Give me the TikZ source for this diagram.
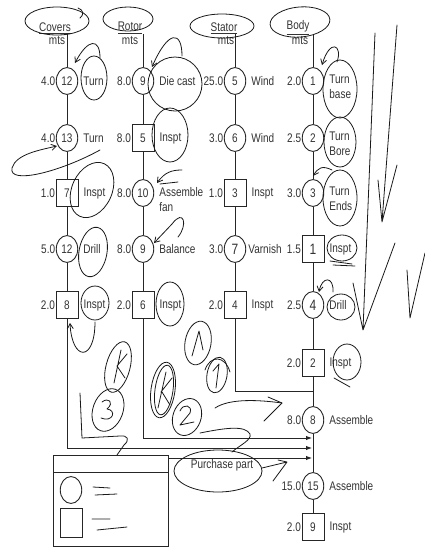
\documentclass[tikz,border=0pt]{standalone}
\usepackage{fontspec}
\setmainfont{Liberation Sans}
\usetikzlibrary{arrows.meta}
\tikzset{
  every node/.style={yscale=1.25,font=\fontsize{10}{12}\selectfont,text=black!80},
  op/.style={circle,draw=black!85,line width=.9pt,minimum size=21.5pt,inner sep=0pt},
  insp/.style={rectangle,draw=black!85,line width=.9pt,minimum size=22pt,inner sep=0pt},
  tm/.style={inner sep=.5pt,label distance=0pt},
  nm/.style={inner sep=1pt,label distance=4pt,align=left},
  nm2/.style={nm,anchor=north west,yshift=6pt},
  big/.style={font=\fontsize{12}{12}\selectfont},
  flow/.style={line width=.9pt,black!85},
  feed/.style={flow,-{Latex[length=6pt,width=4.5pt]}},
  pen/.style={line width=.8pt,black!90,line cap=round,line join=round},
  penarr/.style={pen,-{Straight Barb[length=5pt,width=6pt]}}
}
\begin{document}
\begin{tikzpicture}[x=1pt,y=-1pt]
 \useasboundingbox (0,0) rectangle (424,547);
 \node (hc) at (55,28) {\underline{Covers}};
 \node (hcm) at (57,41) {mts};
 \node (hr) at (130,28) {\underline{Rotor}};
 \node (hrm) at (130,41) {mts};
 \node (hs) at (224,28) {\underline{Stator}};
 \node (hsm) at (226,41) {mts};
 \node (hb) at (298,28) {\underline{Body}};
 \node (hbm) at (300,41) {mts};
 \coordinate (tc) at (67,34);
 \coordinate (tr) at (143,34);
 \coordinate (ts) at (235,34);
 \coordinate (tb) at (313,34);

 \node[op,label={[tm]west:4.0},label={[nm]east:Turn}] (c1) at (67,81) {12};
 \node[op,label={[tm]west:4.0},label={[nm]east:Turn}] (c2) at (67,138) {13};
 \node[insp,label={[tm]west:1.0},label={[nm]east:Inspt}] (c3) at (67,193) {7};
 \node[op,label={[tm]west:5.0},label={[nm]east:Drill}] (c4) at (67,249) {12};
 \node[insp,label={[tm]west:2.0},label={[nm]east:Inspt}] (c5) at (67,305) {8};

 \node[op,label={[tm]west:8.0},label={[nm]east:Die cast}] (r1) at (143,81) {9};
 \node[insp,label={[tm]west:8.0},label={[nm]east:Inspt}] (r2) at (143,138) {5};
 \node[op,label={[tm]west:8.0},label={[nm2]east:{Assemble\\fan}}] (r3) at (143,193) {10};
 \node[op,label={[tm]west:8.0},label={[nm]east:Balance}] (r4) at (143,249) {9};
 \node[insp,label={[tm]west:2.0},label={[nm]east:Inspt}] (r5) at (143,305) {6};

 \node[op,label={[tm]west:25.0},label={[nm]east:Wind}] (s1) at (235,81) {5};
 \node[op,label={[tm]west:3.0},label={[nm]east:Wind}] (s2) at (235,138) {6};
 \node[insp,label={[tm]west:1.0},label={[nm]east:Inspt}] (s3) at (235,193) {3};
 \node[op,big,label={[tm]west:3.0},label={[nm,label distance=1pt]east:Varnish}] (s4) at (235,249) {7};
 \node[insp,label={[tm]west:2.0},label={[nm]east:Inspt}] (s5) at (235,305) {4};

 \node[op,label={[tm]west:2.0},label={[nm2]east:{Turn\\base}}] (b1) at (313,81) {1};
 \node[op,label={[tm]west:2.5},label={[nm2]east:{Turn\\Bore}}] (b2) at (313,138) {2};
 \node[op,label={[tm]west:3.0},label={[nm2]east:{Turn\\Ends}}] (b3) at (313,193) {3};
 \node[insp,big,label={[tm]west:1.5},label={[nm]east:Inspt}] (b4) at (313,249) {1};
 \node[op,big,label={[tm]west:2.5},label={[nm]east:Drill}] (b5) at (313,305) {4};
 \node[insp,label={[tm]west:2.0},label={[nm]east:Inspt}] (b6) at (313,363) {2};
 \node[op,label={[tm]west:8.0},label={[nm]east:Assemble}] (b7) at (313,420) {8};
 \node[op,label={[tm]west:15.0},label={[nm]east:Assemble}] (b8) at (313,486) {15};
 \node[insp,label={[tm]west:2.0},label={[nm]east:Inspt}] (b9) at (313,527) {9};

 \draw[flow] (tc) -- (c1) -- (c2) -- (c3) -- (c4) -- (c5);
 \draw[flow] (tr) -- (r1) -- (r2) -- (r3) -- (r4) -- (r5);
 \draw[flow] (ts) -- (s1) -- (s2) -- (s3) -- (s4) -- (s5);
 \draw[flow] (tb) -- (b1) -- (b2) -- (b3) -- (b4) -- (b5) -- (b6) -- (b7) -- (b8) -- (b9);

 \coordinate (js) at (313,391);
 \coordinate (jr) at (312,438);
 \coordinate (jc) at (312,448);
 \coordinate (pp) at (168,458);
 \coordinate (jp) at (312,458);
 \draw[flow] (s5) |- (js);
 \draw[feed] (r5) |- (jr);
 \draw[feed] (c5) |- (jc);
 \draw[feed] (pp) -- (jp);
 \node[anchor=north,inner sep=1pt] (ptxt) at (222,458) {Purchase part};

 \draw[flow] (53,455) rectangle (168,546);
 \draw[flow] (53,472) -- (168,472);
 \node[op] (lgo) at (71,490) {};
 \node[insp,minimum height=22.5pt] (lgi) at (71,523) {};
 \draw[pen] (93,487) -- (110,488) (95,495) -- (117,494);
 \draw[pen] (92,519) -- (110,519) (97,530) -- (127,527);

 \draw[pen] (57,21) ellipse [x radius=32,y radius=14];
 \draw[pen] (78,8) .. controls (84,10) and (84,15) .. (80,18);
 \draw[pen] (128,19) ellipse [x radius=25,y radius=12];
 \draw[pen] (222,26) ellipse [x radius=32,y radius=12];
 \draw[pen] (300,22) ellipse [x radius=30,y radius=15,rotate=5];

 \draw[pen] (94,78) ellipse [x radius=13,y radius=22];
 \draw[penarr] (100,58) .. controls (100,38) and (88,38) .. (75,63);
 \draw[pen] (175,84) ellipse [x radius=27,y radius=27];
 \draw[penarr] (182,56) .. controls (182,30) and (168,30) .. (152,67);
 \draw[pen] (340,89) ellipse [x radius=17,y radius=29];
 \draw[penarr] (337,62) .. controls (343,45) and (330,38) .. (322,65);
 \draw[pen] (340,142) ellipse [x radius=16,y radius=25];
 \draw[pen] (340,198) ellipse [x radius=17,y radius=28];
 \draw[penarr] (332,170) .. controls (322,165) and (318,168) .. (313,176);
 \draw[pen] (342,248) ellipse [x radius=15,y radius=13];
 \draw[pen] (330,261) -- (352,264) (333,265) -- (355,266);
 \draw[pen] (341,307) ellipse [x radius=14,y radius=13];
 \draw[penarr] (333,292) .. controls (334,276) and (322,276) .. (319,292);
 \draw[pen] (347,362) ellipse [x radius=14,y radius=18];
 \draw[pen] (334,378) -- (350,387);

 \draw[penarr] (100,150) .. controls (60,172) and (8,185) .. (12,168) .. controls (16,154) and (40,150) .. (57,146);
 \draw[pen] (92,190) ellipse [x radius=20,y radius=29,rotate=-25];
 \draw[pen] (170,135) ellipse [x radius=18,y radius=27];
 \draw[penarr] (182,170) .. controls (172,170) and (165,172) .. (157,183);
 \draw[pen] (178,182) -- (160,184);
 \draw[penarr] (178,237) .. controls (188,225) and (184,208) .. (172,224) -- (154,243);
 \draw[pen] (93,252) ellipse [x radius=14,y radius=25,rotate=-10];
 \draw[pen] (95,303) ellipse [x radius=14,y radius=17];
 \draw[penarr] (95,322) .. controls (95,362) and (72,362) .. (70,323);
 \draw[pen] (170,304) ellipse [x radius=14,y radius=22];
 \draw[pen] (205,370) .. controls (210,355) and (225,355) .. (230,372);

 \draw[pen] (198,343) ellipse [x radius=13,y radius=22,rotate=-10];
 \draw[pen] (192,356) -- (199,331) -- (203,350);
 \draw[pen] (217,375) ellipse [x radius=10,y radius=18,rotate=-10];
 \draw[pen] (213,371) -- (219,364) -- (216,388);
 \draw[pen] (163,390) ellipse [x radius=12,y radius=28,rotate=-8];
 \draw[pen] (164,390) ellipse [x radius=9,y radius=25,rotate=-8];
 \draw[pen] (158,408) -- (166,372) (161,392) -- (172,378) (162,392) -- (170,405);
 \draw[pen] (187,417) ellipse [x radius=14,y radius=19,rotate=-20];
 \draw[pen] (180,411) .. controls (183,403) and (193,405) .. (190,413) -- (180,425) -- (194,422);
 \draw[pen] (215,408) .. controls (230,398) and (260,400) .. (282,403);
 \draw[pen] (268,397) -- (282,403) -- (264,421);
 \draw[pen] (200,433) .. controls (225,428) and (245,425) .. (250,434) .. controls (252,440) and (240,445) .. (232,452);

 \draw[pen] (118,367) ellipse [x radius=12,y radius=26,rotate=-15];
 \draw[pen] (114,383) -- (121,350) (117,366) -- (127,354) (117,366) -- (125,378);
 \draw[pen] (108,410) ellipse [x radius=15,y radius=22,rotate=-20];
 \draw[pen] (102,402) .. controls (108,397) and (115,402) .. (107,409) .. controls (117,410) and (113,423) .. (101,418);
 \draw[pen] (80,393) -- (82,438) -- (120,436) .. controls (128,435) and (130,440) .. (124,445) -- (117,455);

 \draw[pen] (218,471) ellipse [x radius=44,y radius=21];
 \draw[pen] (262,468) -- (287,462) (278,460) -- (287,462) -- (273,481);

 \draw[pen] (375,33) -- (363,330) (353,283) -- (363,330) -- (395,243);
 \draw[pen] (397,25) -- (382,222) (378,180) -- (382,222) -- (397,165);
 \draw[pen] (425,253) -- (410,318) (407,270) -- (410,318);
\end{tikzpicture}
\end{document}
